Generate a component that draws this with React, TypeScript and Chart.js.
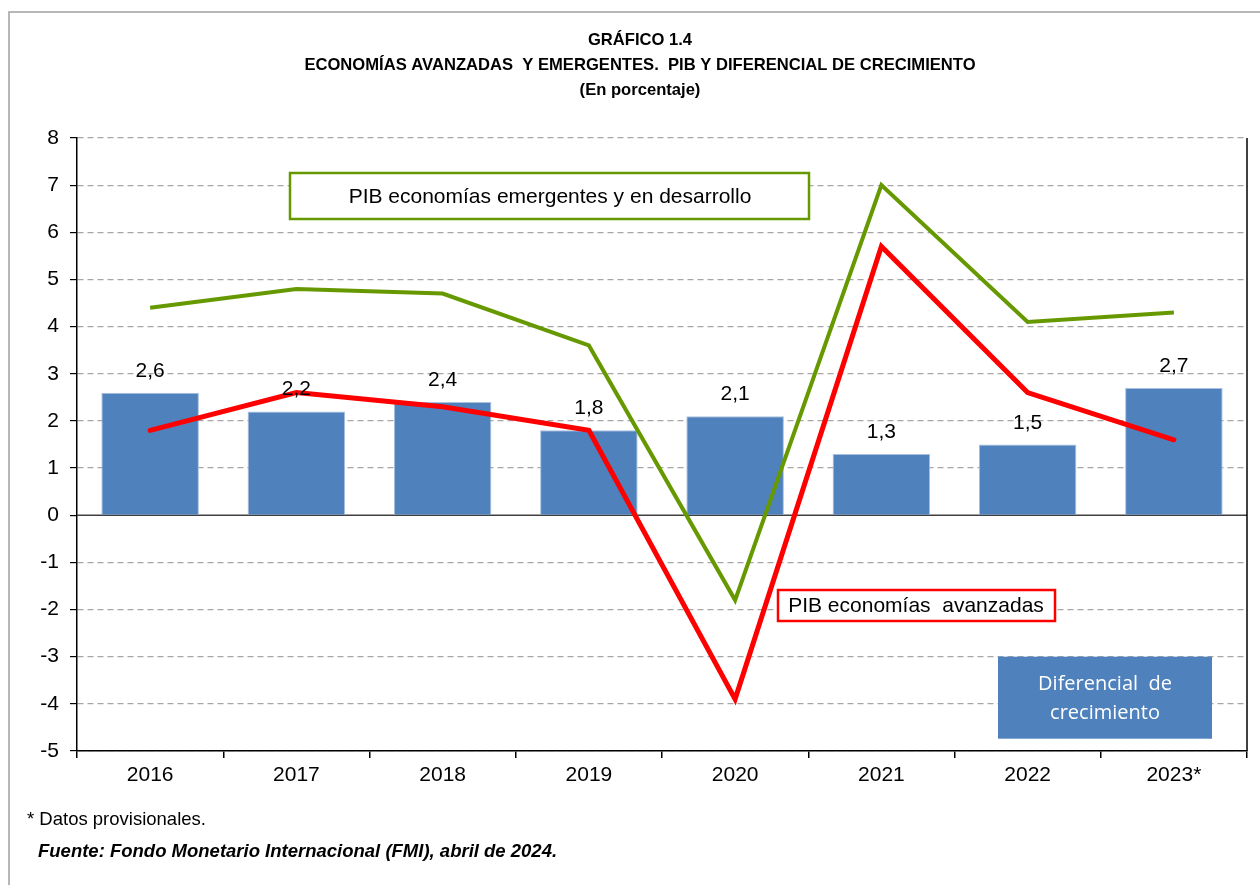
import React, { useEffect, useRef } from "react";
import { Chart, registerables } from "chart.js";

Chart.register(...registerables);

const categories = ["2016", "2017", "2018", "2019", "2020", "2021", "2022", "2023*"];
const diferencial = [2.6, 2.2, 2.4, 1.8, 2.1, 1.3, 1.5, 2.7];
const emergentes = [4.4, 4.8, 4.7, 3.6, -1.8, 7.0, 4.1, 4.3];
const avanzadas = [1.8, 2.6, 2.3, 1.8, -3.9, 5.7, 2.6, 1.6];
const yTicks = [8, 7, 6, 5, 4, 3, 2, 1, 0, -1, -2, -3, -4, -5];

const titleLines = [
  "GRÁFICO 1.4",
  "ECONOMÍAS AVANZADAS  Y EMERGENTES.  PIB Y DIFERENCIAL DE CRECIMIENTO",
  "(En porcentaje)",
];
const note = "* Datos provisionales.";
const source = "Fuente: Fondo Monetario Internacional (FMI), abril de 2024.";
const labelEmergentes = "PIB economías emergentes y en desarrollo";
const labelAvanzadas = "PIB economías  avanzadas";
const labelDiferencial = ["Diferencial  de", "crecimiento"];

const SANS = "'Liberation Sans', Arial, sans-serif";
const fmt = (v: number) => v.toFixed(1).replace(".", ",");

const overlay = {
  id: "overlay",
  beforeDraw(chart: any) {
    const { ctx } = chart;
    ctx.save();
    ctx.fillStyle = "#ffffff";
    ctx.fillRect(0, 0, chart.width, chart.height);
    ctx.strokeStyle = "#a0a0a0";
    ctx.lineWidth = 1.5;
    ctx.beginPath();
    ctx.moveTo(9, chart.height + 5);
    ctx.lineTo(9, 12);
    ctx.lineTo(chart.width + 5, 12);
    ctx.stroke();
    ctx.restore();
  },
  beforeDatasetsDraw(chart: any) {
    const { ctx, chartArea } = chart;
    const y0 = chart.scales.y.getPixelForValue(0);
    ctx.save();
    ctx.strokeStyle = "#404040";
    ctx.lineWidth = 1.5;
    ctx.beginPath();
    ctx.moveTo(chartArea.left, y0);
    ctx.lineTo(chartArea.right, y0);
    ctx.stroke();
    ctx.restore();
  },
  afterDatasetsDraw(chart: any) {
    const { ctx, chartArea } = chart;
    const y = chart.scales.y;
    ctx.save();
    // bar value labels
    const meta = chart.getDatasetMeta(0);
    ctx.fillStyle = "#000";
    ctx.font = `21px ${SANS}`;
    ctx.textAlign = "center";
    ctx.textBaseline = "alphabetic";
    meta.data.forEach((bar: any, i: number) => {
      ctx.fillText(fmt(diferencial[i]), bar.x, bar.y - 16);
    });

    // annotation boxes
    ctx.lineWidth = 2.5;
    ctx.fillStyle = "#fff";
    ctx.strokeStyle = "#669900";
    ctx.fillRect(290, 173, 519, 46);
    ctx.strokeRect(290, 173, 519, 46);
    ctx.fillStyle = "#000";
    ctx.font = `21px ${SANS}`;
    ctx.textBaseline = "middle";
    ctx.fillText(labelEmergentes, 550, 197);

    ctx.fillStyle = "#fff";
    ctx.strokeStyle = "#ff0000";
    ctx.fillRect(778, 590, 277, 31);
    ctx.strokeRect(778, 590, 277, 31);
    ctx.fillStyle = "#000";
    ctx.fillText(labelAvanzadas, 916, 606);

    ctx.fillStyle = "#4F81BD";
    ctx.fillRect(998, y.getPixelForValue(-3), 214, 82);
    ctx.fillStyle = "#fff";
    ctx.font = "20px 'Open Sans', 'Noto Sans', sans-serif";
    ctx.fillText(labelDiferencial[0], 1105, 684);
    ctx.fillText(labelDiferencial[1], 1105, 713);

    // right border
    ctx.strokeStyle = "#000";
    ctx.lineWidth = 1.5;
    ctx.beginPath();
    ctx.moveTo(chartArea.right, chartArea.top);
    ctx.lineTo(chartArea.right, chartArea.bottom);
    ctx.stroke();

    // titles
    ctx.fillStyle = "#000";
    ctx.textAlign = "center";
    ctx.textBaseline = "middle";
    ctx.font = `bold 16.6px ${SANS}`;
    ctx.fillText(titleLines[0], 640, 40);
    ctx.fillText(titleLines[1], 640, 65);
    ctx.fillText(titleLines[2], 640, 90);

    // footnotes
    ctx.textAlign = "left";
    ctx.font = `18.5px ${SANS}`;
    ctx.fillText(note, 27, 820);
    ctx.font = `italic bold 18.5px ${SANS}`;
    ctx.fillText(source, 38, 852);
    ctx.restore();
  },
};

export default function App() {
  const ref = useRef<HTMLCanvasElement | null>(null);
  useEffect(() => {
    document.body.style.margin = "0";
    const chart = new Chart(ref.current as HTMLCanvasElement, {
      type: "bar",
      data: {
        labels: categories,
        datasets: [
          {
            type: "bar",
            label: "Diferencial de crecimiento",
            data: diferencial,
            backgroundColor: "#4F81BD",
            borderColor: "#A9C0DE",
            borderWidth: 1,
            barPercentage: 0.667,
            categoryPercentage: 1,
            order: 3,
          },
          {
            type: "line",
            label: "PIB economías emergentes y en desarrollo",
            data: emergentes,
            borderColor: "#669900",
            borderWidth: 4,
            pointRadius: 0,
            tension: 0,
            order: 2,
          },
          {
            type: "line",
            label: "PIB economías avanzadas",
            data: avanzadas,
            borderColor: "#FF0000",
            borderWidth: 5,
            borderCapStyle: "round",
            pointRadius: 0,
            tension: 0,
            order: 1,
          },
        ] as any,
      },
      options: {
        animation: false,
        responsive: false,
        maintainAspectRatio: false,
        layout: { padding: { left: 0, top: 138, right: 13, bottom: 0 } },
        plugins: {
          legend: { display: false },
          tooltip: { enabled: false },
          title: { display: false },
        },
        scales: {
          x: {
            offset: true,
            grid: {
              offset: true,
              drawOnChartArea: false,
              drawTicks: true,
              tickLength: 7,
              color: "#000",
              lineWidth: 1.5,
            },
            border: { display: true, color: "#000", width: 1.5 },
            ticks: {
              color: "#000",
              font: { family: SANS, size: 21 },
              padding: 5,
            },
            afterFit: (s: any) => {
              s.height = 134;
            },
          },
          y: {
            min: -5,
            max: 8,
            afterBuildTicks: (s: any) => {
              s.ticks = yTicks.map((v) => ({ value: v }));
            },
            grid: {
              color: (c: any) => (c.tick && c.tick.value === 0 ? "rgba(0,0,0,0)" : "#a6a6a6"),
              lineWidth: 1.2,
              drawTicks: true,
              tickLength: 7,
              tickColor: "#000",
              tickBorderDash: [],
            } as any,
            border: { display: true, color: "#000", width: 1.5, dash: [6, 4] } as any,
            ticks: {
              color: "#000",
              font: { family: SANS, size: 21 },
              padding: 11,
              callback: (v: any) => String(v),
            },
            afterFit: (s: any) => {
              s.width = 77;
            },
          },
        },
      },
      plugins: [overlay],
    });
    return () => chart.destroy();
  }, []);
  return <canvas ref={ref} width={1260} height={885} style={{ display: "block" }} />;
}
